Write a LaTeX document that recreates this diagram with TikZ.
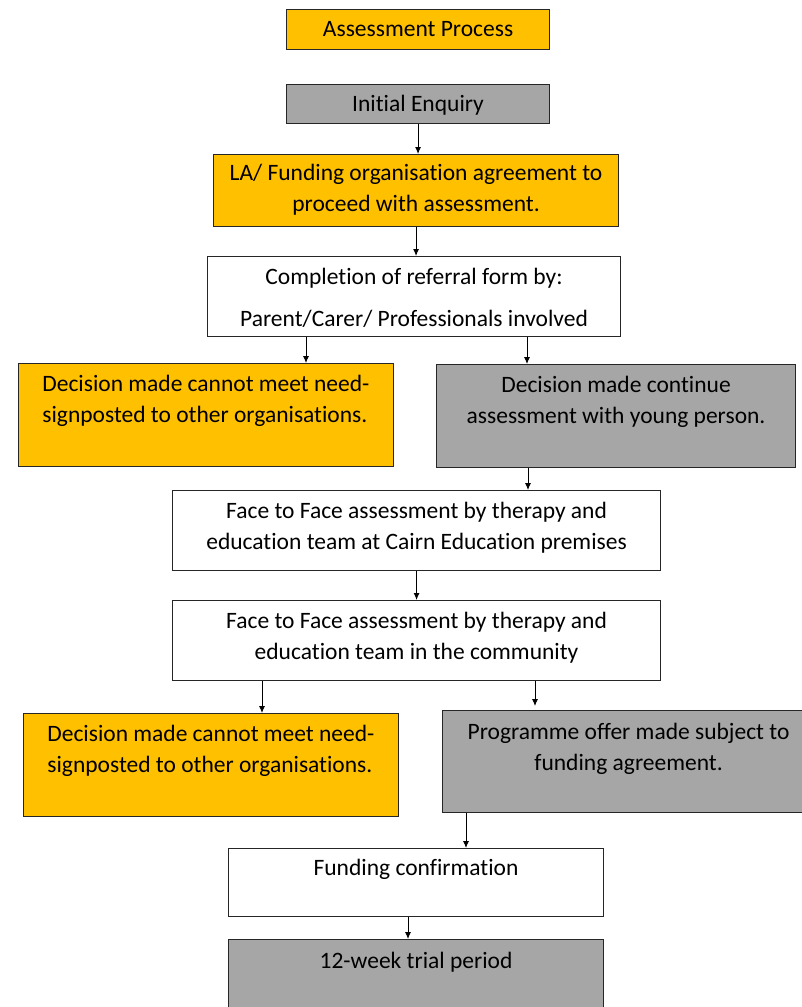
\documentclass[tikz,border=0pt]{standalone}
\usepackage{fontspec}
\setmainfont{Carlito}[Ligatures=NoCommon]
\usepackage{xcolor}
\usetikzlibrary{calc,arrows.meta}
\definecolor{boxamber}{RGB}{255,192,0}
\definecolor{boxgrey}{RGB}{166,166,166}
\tikzset{every picture/.style={line width=0.75pt}}
\tikzset{
  ambbox/.style={draw=black!85, line width=1.1pt, fill=boxamber, anchor=north west, inner sep=0pt},
  greybox/.style={ambbox, fill=boxgrey},
  plainbox/.style={ambbox, fill=white},
  boxtext/.style={anchor=north, align=center, inner sep=0pt, font=\fontsize{23.5}{31}\selectfont},
  lefttext/.style={boxtext, anchor=north west, text width=327pt, align=justify},
  flow/.style={-{Latex[length=7pt,width=6pt]}, line width=0.9pt}
}

\begin{document}
\begin{tikzpicture}[x=1pt,y=1pt,yscale=-1,xscale=1]
\useasboundingbox (0,0) rectangle (802,1007);

%Boxes
\node (title) [ambbox, minimum width=263pt, minimum height=40pt] at (286,9) {};
\node (enquiry) [greybox, minimum width=263pt, minimum height=39pt] at (286,84) {};
\node (agree) [ambbox, minimum width=405pt, minimum height=72pt] at (213,154) {};
\node (referral) [plainbox, minimum width=413pt, minimum height=80pt] at (207,256) {};
\node (nomeet) [ambbox, minimum width=375pt, minimum height=103pt] at (18,363) {};
\node (cont) [greybox, minimum width=359pt, minimum height=103pt] at (436,364) {};
\node (premises) [plainbox, minimum width=488pt, minimum height=80pt] at (172,490) {};
\node (community) [plainbox, minimum width=488pt, minimum height=80pt] at (172,600) {};
\node (nomeetb) [ambbox, minimum width=375pt, minimum height=103pt] at (23,713) {};
\node (offer) [greybox, minimum width=372pt, minimum height=102pt] at (442,710) {};
\node (fundconf) [plainbox, minimum width=375pt, minimum height=68pt] at (228,848) {};
\node (trial) [greybox, minimum width=375pt, minimum height=80pt] at (228,939) {};

% Text Node
\node (title-t) [boxtext] at ($(title.north)+(0,12)$) {Assessment Process};
% Text Node
\node (enquiry-t) [boxtext] at ($(enquiry.north)+(0,11)$) {Initial Enquiry};
% Text Node
\node (agree-t) [boxtext] at ($(agree.north)+(0,10)$) {LA/ Funding organisation agreement to\\proceed with assessment.};
% Text Node
\node (referral-t) [boxtext] at ($(referral.north)+(0,12)$) {Completion of referral form by:\\[11pt]Parent/Carer/ Professionals involved};
% Text Node
\node (nomeet-t) [lefttext] at ($(nomeet.north west)+(24,12)$) {Decision made cannot meet need-\linebreak signposted to other organisations.};
% Text Node
\node (cont-t) [boxtext] at ($(cont.north)+(0,12)$) {Decision made continue\\assessment with young person.};
% Text Node
\node (premises-t) [boxtext] at ($(premises.north)+(0,12)$) {Face to Face assessment by therapy and\\education team at Cairn Education premises};
% Text Node
\node (community-t) [boxtext] at ($(community.north)+(0,12)$) {Face to Face assessment by therapy and\\education team in the community};
% Text Node
\node (nomeetb-t) [lefttext] at ($(nomeetb.north west)+(24,12)$) {Decision made cannot meet need-\linebreak signposted to other organisations.};
% Text Node
\node (offer-t) [boxtext] at ($(offer.north)+(0,13)$) {Programme offer made subject to\\funding agreement.};
% Text Node
\node (fundconf-t) [boxtext] at ($(fundconf.north)+(0,11)$) {Funding confirmation};
% Text Node
\node (trial-t) [boxtext] at ($(trial.north)+(0,13)$) {12-week trial period};

%Straight Lines
\coordinate (r1) at ($(referral.south west)+(99,0)$);
\coordinate (r2) at ($(referral.south west)+(320,0)$);
\coordinate (c1) at ($(cont.south west)+(92,0)$);
\coordinate (m1) at ($(community.south west)+(90,0)$);
\coordinate (m2) at ($(community.south west)+(363,0)$);
\coordinate (o1) at ($(offer.south west)+(24,0)$);
\coordinate (f1) at ($(fundconf.south west)+(180,0)$);
\draw [flow] (enquiry.south) -- (enquiry.south |- agree.north);
\draw [flow] (agree.south) -- (agree.south |- referral.north);
\draw [flow] (r1) -- (r1 |- nomeet.north);
\draw [flow] (r2) -- (r2 |- cont.north);
\draw [flow] (c1) -- (c1 |- premises.north);
\draw [flow] (premises.south) -- (premises.south |- community.north);
\draw [flow] (m1) -- (m1 |- nomeetb.north);
\draw [flow, shorten >=4pt] (m2) -- (m2 |- offer.north);
\draw [flow] (o1) -- (o1 |- fundconf.north);
\draw [flow] (f1) -- (f1 |- trial.north);

\end{tikzpicture}
\end{document}
